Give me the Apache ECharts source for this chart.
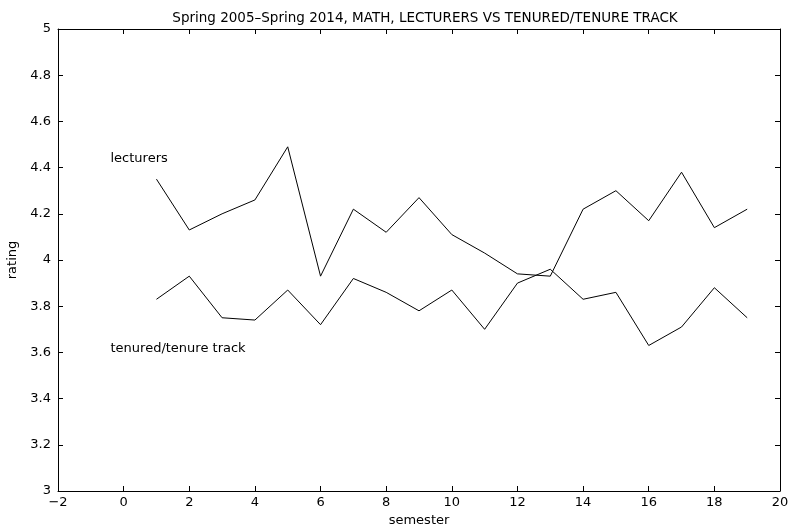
<!DOCTYPE html>
<html><head><meta charset="utf-8">
<script src="https://cdn.jsdelivr.net/npm/echarts@6/dist/echarts.min.js"></script>
<style>html,body{margin:0;padding:0;background:#fff}#c{width:791px;height:525px}</style>
</head><body><div id="c"></div>
<script>
const semesters = [1,2,3,4,5,6,7,8,9,10,11,12,13,14,15,16,17,18,19];
const lecturers = [4.35,4.13,4.20,4.26,4.49,3.93,4.22,4.12,4.27,4.11,4.03,3.94,3.93,4.22,4.30,4.17,4.38,4.14,4.22];
const tenured = [3.83,3.93,3.75,3.74,3.87,3.72,3.92,3.86,3.78,3.87,3.70,3.90,3.96,3.83,3.86,3.63,3.71,3.88,3.75];
const seriesNames = ['lecturers','tenured/tenure track'];
const labelPos = [[-0.4,4.44],[-0.4,3.615]];

const font = 'DejaVu Sans, Liberation Sans, sans-serif';
const chart = echarts.init(document.getElementById('c'), null, {renderer:'canvas'});
const fmt = v => String(v).replace('-', '\u2212');
const baseX = {
  type:'value', min:-2, max:20, interval:2,
  axisLine:{show:true, onZero:false, lineStyle:{color:'#000', width:1}},
  axisTick:{show:true, inside:true, length:5, lineStyle:{color:'#000'}},
  splitLine:{show:false}
};
const baseY = {
  type:'value', min:3, max:5, interval:0.2,
  axisLine:{show:true, onZero:false, lineStyle:{color:'#000', width:1}},
  axisTick:{show:true, inside:true, length:5, lineStyle:{color:'#000'}},
  splitLine:{show:false}
};
chart.setOption({
  animation:false,
  backgroundColor:'#fff',
  title:{text:'Spring 2005\u2013Spring 2014, MATH, LECTURERS VS TENURED/TENURE TRACK', left:420, textAlign:'center', top:6,
    textStyle:{fontFamily:font, fontSize:13.5, fontWeight:'normal', color:'#000'}},
  grid:{left:58, right:11, top:29, bottom:34, containLabel:false, outerBoundsMode:'none'},
  xAxis:[
    Object.assign({}, baseX, {position:'bottom', name:'semester', nameLocation:'middle', nameGap:21,
      nameTextStyle:{fontFamily:font, fontSize:13, color:'#000'},
      axisLabel:{fontFamily:font, fontSize:13, color:'#000', margin:5, formatter:fmt}}),
    Object.assign({}, baseX, {position:'top', axisLabel:{show:false}})
  ],
  yAxis:[
    Object.assign({}, baseY, {position:'left', name:'rating', nameLocation:'middle', nameGap:37,
      nameTextStyle:{fontFamily:font, fontSize:13, color:'#000'},
      axisLabel:{fontFamily:font, fontSize:13, color:'#000', margin:7, formatter:v=>fmt(+v.toFixed(1))}}),
    Object.assign({}, baseY, {position:'right', axisLabel:{show:false}})
  ],
  series:[
    {name:seriesNames[0], type:'line', data:semesters.map((s,i)=>[s,lecturers[i]]), symbol:'none',
      lineStyle:{color:'#000', width:1},
      markPoint:{symbol:'rect', symbolSize:0, data:[{coord:labelPos[0], label:{show:true, formatter:seriesNames[0], position:'right', offset:[-5,0], fontFamily:font, fontSize:13, color:'#000'}}]}},
    {name:seriesNames[1], type:'line', data:semesters.map((s,i)=>[s,tenured[i]]), symbol:'none',
      lineStyle:{color:'#000', width:1},
      markPoint:{symbol:'rect', symbolSize:0, data:[{coord:labelPos[1], label:{show:true, formatter:seriesNames[1], position:'right', offset:[-5,0], fontFamily:font, fontSize:13, color:'#000'}}]}}
  ]
});
</script></body></html>
